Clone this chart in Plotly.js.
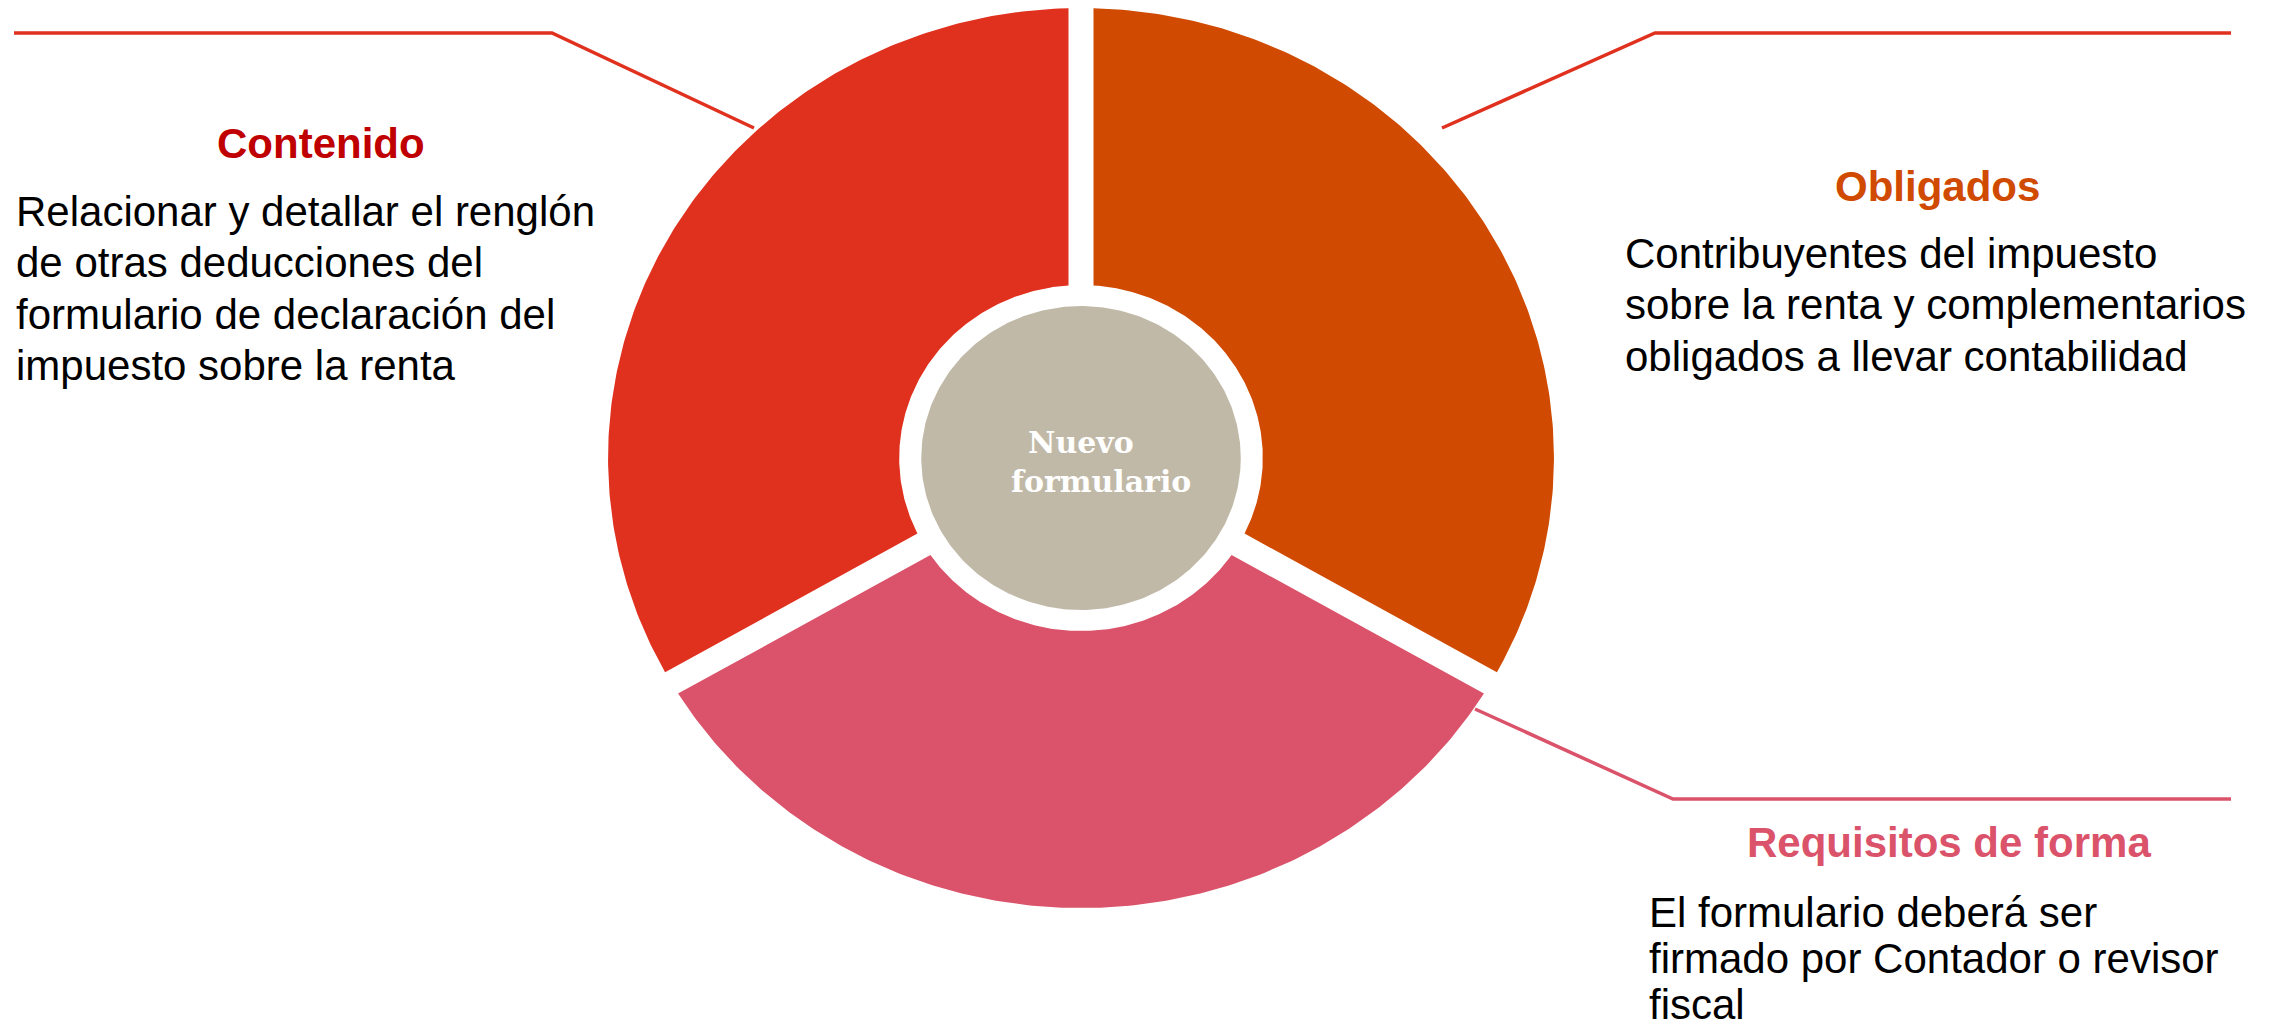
<!DOCTYPE html>
<html><head><meta charset="utf-8">
<script src="https://cdn.plot.ly/plotly-3.0.1.min.js"></script>
<style>html,body{margin:0;padding:0;background:#fff;overflow:hidden}</style>
</head><body><div id="chart" style="width:2272px;height:1029px"></div>
<script>
// ---- data ----
const segments = ['Obligados', 'Requisitos de forma', 'Contenido'];
const segmentValues = [1, 1, 1];
const segmentColors = ['#D04A02', '#DB536A', '#E0301E'];
const titleColors = ['#D04A02', '#DB536A', '#C00000'];
const centerLabel = ['Nuevo', 'formulario'];
const obligadosLines = ['Contribuyentes del impuesto', 'sobre la renta y complementarios', 'obligados a llevar contabilidad'];
const requisitosLines = ['El formulario deberá ser', 'firmado por Contador o revisor', 'fiscal'];
const contenidoLines = ['Relacionar y detallar el renglón', 'de otras deducciones del', 'formulario de declaración del', 'impuesto sobre la renta'];

// ---- geometry (pixel-like plot coordinates) ----
const W = 2272, H = 1029;
const cx = 1081, cy = 458, k = 1.051;
const Rout = 450, Rin = 173, Rcore = 152, halfGap = 12.5;
const deg = Math.PI / 180;
function pt(R, t) { return [cx + k * R * Math.cos(t), cy - R * Math.sin(t)]; }
function distToBoundary(R, t, b) {
  let dx = k * Math.cos(b), dy = -Math.sin(b);
  const n = Math.hypot(dx, dy); dx /= n; dy /= n;
  const p = pt(R, t);
  return Math.abs(dx * (p[1] - cy) - dy * (p[0] - cx));
}
function solve(R, b, mid) {
  let lo = b, hi = mid;
  for (let i = 0; i < 60; i++) {
    const m = (lo + hi) / 2;
    if (distToBoundary(R, m, b) < halfGap) lo = m; else hi = m;
  }
  return (lo + hi) / 2;
}
const total = segmentValues.reduce((a, b) => a + b, 0);
const traces = [];
let cum = 0;
segments.forEach((name, i) => {
  const a0 = (90 - 360 * cum / total) * deg;
  cum += segmentValues[i];
  const a1 = (90 - 360 * cum / total) * deg;
  const mid = (a0 + a1) / 2;
  const so = solve(Rout, a0, mid), eo = solve(Rout, a1, mid);
  const si = solve(Rin, a0, mid), ei = solve(Rin, a1, mid);
  const xs = [], ys = [];
  const N = 200;
  for (let j = 0; j <= N; j++) { const t = so + (eo - so) * j / N; const p = pt(Rout, t); xs.push(p[0]); ys.push(p[1]); }
  for (let j = 0; j <= N; j++) { const t = ei + (si - ei) * j / N; const p = pt(Rin, t); xs.push(p[0]); ys.push(p[1]); }
  xs.push(xs[0]); ys.push(ys[0]);
  traces.push({type: 'scatter', mode: 'lines', x: xs, y: ys, fill: 'toself', fillcolor: segmentColors[i],
    line: {width: 0, color: segmentColors[i]}, hoverinfo: 'text', text: name, showlegend: false});
});
// core ellipse
(function () {
  const xs = [], ys = [];
  for (let j = 0; j <= 360; j++) { const p = pt(Rcore, j * deg); xs.push(p[0]); ys.push(p[1]); }
  traces.push({type: 'scatter', mode: 'lines', x: xs, y: ys, fill: 'toself', fillcolor: '#C1B9A7',
    line: {width: 0, color: '#C1B9A7'}, hoverinfo: 'text', text: centerLabel.join(' '), showlegend: false});
})();

const sans = 'Liberation Sans, Arial, sans-serif';
const ann = [];
function addText(text, x, y, xanchor, color, size, bold, family) {
  ann.push({text: bold ? '<b>' + text + '</b>' : text, x: x, y: y, xref: 'x', yref: 'y', xanchor: xanchor, yanchor: 'middle',
    showarrow: false, font: {family: family || sans, size: size, color: color}});
}
// titles
addText(segments[2], 321, 143, 'center', titleColors[2], 42, true);
addText(segments[0], 1937, 186, 'center', titleColors[0], 42, true);
addText(segments[1], 1949, 842, 'center', titleColors[1], 42, true);
// bodies
contenidoLines.forEach((s, i) => addText(s, 14, 211 + i * 51.5, 'left', '#000', 42, false));
obligadosLines.forEach((s, i) => addText(s, 1623, 253 + i * 51.5, 'left', '#000', 42, false));
requisitosLines.forEach((s, i) => addText(s, 1647, 912 + i * 46, 'left', '#000', 42, false));
// center label
addText(centerLabel[0], 1081, 442, 'center', '#FFFFFF', 30, true, 'DejaVu Serif, Georgia, serif');
addText(centerLabel[1], 1101, 481, 'center', '#FFFFFF', 30, true, 'DejaVu Serif, Georgia, serif');

const shapes = [
  {type: 'path', xref: 'x', yref: 'y', path: 'M 14 33 L 552 33 L 754 128', line: {color: '#E0301E', width: 3.5}},
  {type: 'path', xref: 'x', yref: 'y', path: 'M 2231 33 L 1655 33 L 1442 128', line: {color: '#E0301E', width: 3.5}},
  {type: 'path', xref: 'x', yref: 'y', path: 'M 1475 709 L 1673 799 L 2231 799', line: {color: '#DB536A', width: 3.5}}
];

const layout = {
  width: W, height: H,
  margin: {l: 0, r: 0, t: 0, b: 0, pad: 0},
  paper_bgcolor: '#FFFFFF', plot_bgcolor: '#FFFFFF',
  xaxis: {range: [0, W], visible: false, fixedrange: true},
  yaxis: {range: [H, 0], visible: false, fixedrange: true},
  showlegend: false,
  annotations: ann,
  shapes: shapes
};
Plotly.newPlot('chart', traces, layout, {displayModeBar: false, responsive: false});
</script></body></html>
